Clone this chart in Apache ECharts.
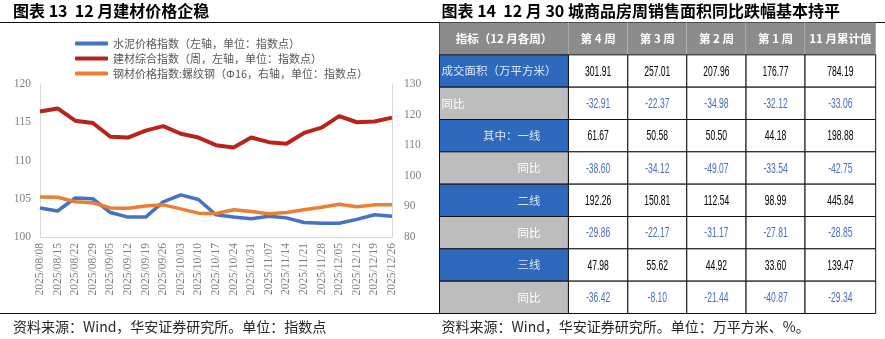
<!DOCTYPE html>
<html>
<head>
<meta charset="utf-8">
<script src="https://cdn.jsdelivr.net/npm/echarts@6/dist/echarts.min.js"></script>
<style>
  html, body { margin: 0; padding: 0; background: #ffffff; }
  #chart { width: 885px; height: 339px; }
</style>
</head>
<body>
<div id="chart"></div>
<script>
// ---- Figure 13: weekly building-material price indices ----
const dates = [
  '2025/08/08', '2025/08/15', '2025/08/22', '2025/08/29', '2025/09/05', '2025/09/12', '2025/09/19',
  '2025/09/26', '2025/10/03', '2025/10/10', '2025/10/17', '2025/10/24', '2025/10/31', '2025/11/07',
  '2025/11/14', '2025/11/21', '2025/11/28', '2025/12/05', '2025/12/12', '2025/12/19', '2025/12/26'
];
const cementIndex = [103.8, 103.4, 105.1, 105.0, 103.2, 102.6, 102.6, 104.6, 105.5, 104.9, 102.9,
  102.6, 102.4, 102.7, 102.5, 101.9, 101.8, 101.8, 102.3, 102.9, 102.7];
const materialsIndex = [116.4, 116.8, 115.2, 114.9, 113.1, 113.0, 113.9, 114.5, 113.5, 113.0, 112.0,
  111.7, 113.0, 112.4, 112.2, 113.6, 114.3, 115.8, 115.0, 115.1, 115.6];
const rebarIndex = [93.1, 93.0, 91.5, 91.2, 89.5, 89.4, 90.1, 90.5, 89.2, 87.8, 87.7,
  88.9, 88.3, 87.6, 88.0, 88.9, 89.7, 90.7, 89.9, 90.5, 90.5];
const seriesNames = [
  '水泥价格指数（左轴，单位：指数点）',
  '建材综合指数（周，左轴，单位：指数点）',
  '钢材价格指数:螺纹钢（Φ16，右轴，单位：指数点）'
];

// ---- Figure 14: weekly new-home sales in 30 cities, December ----
const tableHeader = ['指标（12 月各周）', '第 4 周', '第 3 周', '第 2 周', '第 1 周', '11 月累计值'];
const rowLabels = ['成交面积（万平方米）', '同比', '其中：一线', '同比', '二线', '同比', '三线', '同比'];
const areaTotal = [301.91, 257.01, 207.96, 176.77, 784.19];
const areaYoY   = [-32.91, -22.37, -34.98, -32.12, -33.06];
const tier1Area = [61.67, 50.58, 50.50, 44.18, 198.88];
const tier1YoY  = [-38.60, -34.12, -49.07, -33.54, -42.75];
const tier2Area = [192.26, 150.81, 112.54, 98.99, 445.84];
const tier2YoY  = [-29.86, -22.17, -31.17, -27.81, -28.85];
const tier3Area = [47.98, 55.62, 44.92, 33.60, 139.47];
const tier3YoY  = [-36.42, -8.10, -21.44, -40.87, -29.34];
const tableRows = [areaTotal, areaYoY, tier1Area, tier1YoY, tier2Area, tier2YoY, tier3Area, tier3YoY];

// Table column widths in pixels (layout only)
const colWidths = [129, 59.4, 59, 59.3, 59, 70.7];
const colEdges = colWidths.reduce((acc, w) => { acc.push(acc[acc.length - 1] + w); return acc; }, [0]);
const tableWidth = colEdges[colEdges.length - 1];
const rowCount = rowLabels.length + 1;

const cells = [];
for (let r = 0; r < rowCount; r++) {
  for (let c = 0; c < tableHeader.length; c++) cells.push([c, r]);
}

const CJK = '"Noto Sans CJK SC", "Noto Sans", sans-serif';
const SERIF = '"Liberation Serif", "DejaVu Serif", serif';

function renderCell(params, api) {
  const c = api.value(0);
  const r = api.value(1);
  const p0 = api.coord([colEdges[c], r]);
  const p1 = api.coord([colEdges[c + 1], r + 1]);
  const x = p0[0], y = p0[1], w = p1[0] - p0[0], h = p1[1] - p0[1];
  const cy = y + h / 2;
  const children = [];

  if (r === 0) {
    children.push({ type: 'rect', shape: { x, y, width: w, height: h }, style: { fill: '#8c8c8c' } });
    if (c < tableHeader.length - 1) {
      children.push({ type: 'line', shape: { x1: x + w, y1: y, x2: x + w, y2: y + h },
        style: { stroke: '#c8c8c8', lineWidth: 1 } });
    }
    children.push({ type: 'text', x: x + w / 2, y: cy,
      style: { text: tableHeader[c], fill: '#ffffff', font: 'bold 11.5px ' + CJK,
               align: 'center', verticalAlign: 'middle' } });
  } else if (c === 0) {
    const k = r - 1;
    const isArea = k % 2 === 0;
    children.push({ type: 'rect', shape: { x, y, width: w, height: h },
      style: { fill: isArea ? '#2e69be' : '#bdbdbd', stroke: '#111', lineWidth: 1 } });
    const leftAligned = k < 2;
    children.push({ type: 'text', x: leftAligned ? x + 2 : x + w - 28, y: cy,
      style: { text: rowLabels[k], fill: isArea ? '#dde7f6' : '#ffffff', font: '11.5px ' + CJK,
               align: leftAligned ? 'left' : 'right', verticalAlign: 'middle' } });
  } else {
    const k = r - 1;
    const v = tableRows[k][c - 1];
    const isYoY = k % 2 === 1;
    children.push({ type: 'rect', shape: { x, y, width: w, height: h },
      style: { fill: '#ffffff', stroke: '#111', lineWidth: 1 } });
    children.push({ type: 'text', x: x + w / 2, y: cy + 0.5, scaleX: 0.57,
      style: { text: v.toFixed(2), fill: isYoY ? '#4a6fc0' : '#000000',
               font: '15px "Liberation Sans", Arial, sans-serif',
               align: 'center', verticalAlign: 'middle' } });
  }
  return { type: 'group', children };
}

const axisGray = '#d9d9d9';
const labelGray = '#808080';

const chart = echarts.init(document.getElementById('chart'), null, { renderer: 'canvas' });
chart.setOption({
  animation: false,
  backgroundColor: '#ffffff',
  textStyle: { fontFamily: CJK },
  legend: {
    orient: 'vertical',
    left: 70, top: 33,
    itemWidth: 33, itemHeight: 4, itemGap: 4,
    icon: 'roundRect',
    selectedMode: false,
    textStyle: { fontSize: 11, color: '#595959', fontFamily: CJK },
    data: seriesNames
  },
  grid: [
    { left: 40, top: 84, width: 352, height: 153 },
    { left: 439.5, top: 22.5, width: 436.2, height: 291 }
  ],
  xAxis: [
    {
      type: 'category', gridIndex: 0, data: dates, boundaryGap: false,
      axisLine: { lineStyle: { color: axisGray, width: 1 } },
      axisTick: { show: false },
      axisLabel: { rotate: 90, interval: 0, margin: 6, fontSize: 11.5, color: labelGray, fontFamily: SERIF }
    },
    { type: 'value', gridIndex: 1, min: 0, max: tableWidth, show: false }
  ],
  yAxis: [
    {
      type: 'value', gridIndex: 0, position: 'left', min: 100, max: 120, interval: 5,
      axisLine: { show: true, lineStyle: { color: axisGray } },
      axisTick: { show: false }, splitLine: { show: false },
      axisLabel: { margin: 9, fontSize: 11.5, color: labelGray, fontFamily: SERIF }
    },
    {
      type: 'value', gridIndex: 0, position: 'right', min: 80, max: 130, interval: 10,
      axisLine: { show: true, lineStyle: { color: axisGray } },
      axisTick: { show: false }, splitLine: { show: false },
      axisLabel: { margin: 12, fontSize: 11.5, color: labelGray, fontFamily: SERIF }
    },
    { type: 'value', gridIndex: 1, min: 0, max: rowCount, inverse: true, show: false }
  ],
  series: [
    { name: seriesNames[0], type: 'line', xAxisIndex: 0, yAxisIndex: 0, data: cementIndex,
      symbol: 'none', color: '#4472c4', lineStyle: { width: 3.5, color: '#4472c4' } },
    { name: seriesNames[1], type: 'line', xAxisIndex: 0, yAxisIndex: 0, data: materialsIndex,
      symbol: 'none', color: '#b8231b', lineStyle: { width: 4, color: '#b8231b' } },
    { name: seriesNames[2], type: 'line', xAxisIndex: 0, yAxisIndex: 1, data: rebarIndex,
      symbol: 'none', color: '#ed7d31', lineStyle: { width: 3.5, color: '#ed7d31' } },
    { type: 'custom', xAxisIndex: 1, yAxisIndex: 2, data: cells, renderItem: renderCell,
      silent: true, clip: false }
  ],
  graphic: [
    { type: 'text', left: 13, top: 3,
      style: { text: '图表 13  12 月建材价格企稳', font: 'bold 16px ' + CJK, fill: '#000' } },
    { type: 'text', left: 441.5, top: 3,
      style: { text: '图表 14  12 月 30 城商品房周销售面积同比跌幅基本持平', font: 'bold 16px ' + CJK, fill: '#000' } },
    { type: 'line', shape: { x1: 0, y1: 22.5, x2: 885, y2: 22.5 }, style: { stroke: '#111', lineWidth: 1 } },
    { type: 'line', shape: { x1: 0, y1: 313.5, x2: 440, y2: 313.5 }, style: { stroke: '#111', lineWidth: 1 } },
    { type: 'line', shape: { x1: 439.5, y1: 22.5, x2: 439.5, y2: 313.5 }, style: { stroke: '#111', lineWidth: 1 } },
    { type: 'text', left: 13, top: 320,
      style: { text: '资料来源：Wind，华安证券研究所。单位：指数点', font: '14px ' + CJK, fill: '#262626' } },
    { type: 'text', left: 441.5, top: 320,
      style: { text: '资料来源：Wind，华安证券研究所。单位：万平方米、%。', font: '14px ' + CJK, fill: '#262626' } }
  ]
});
</script>
</body>
</html>
